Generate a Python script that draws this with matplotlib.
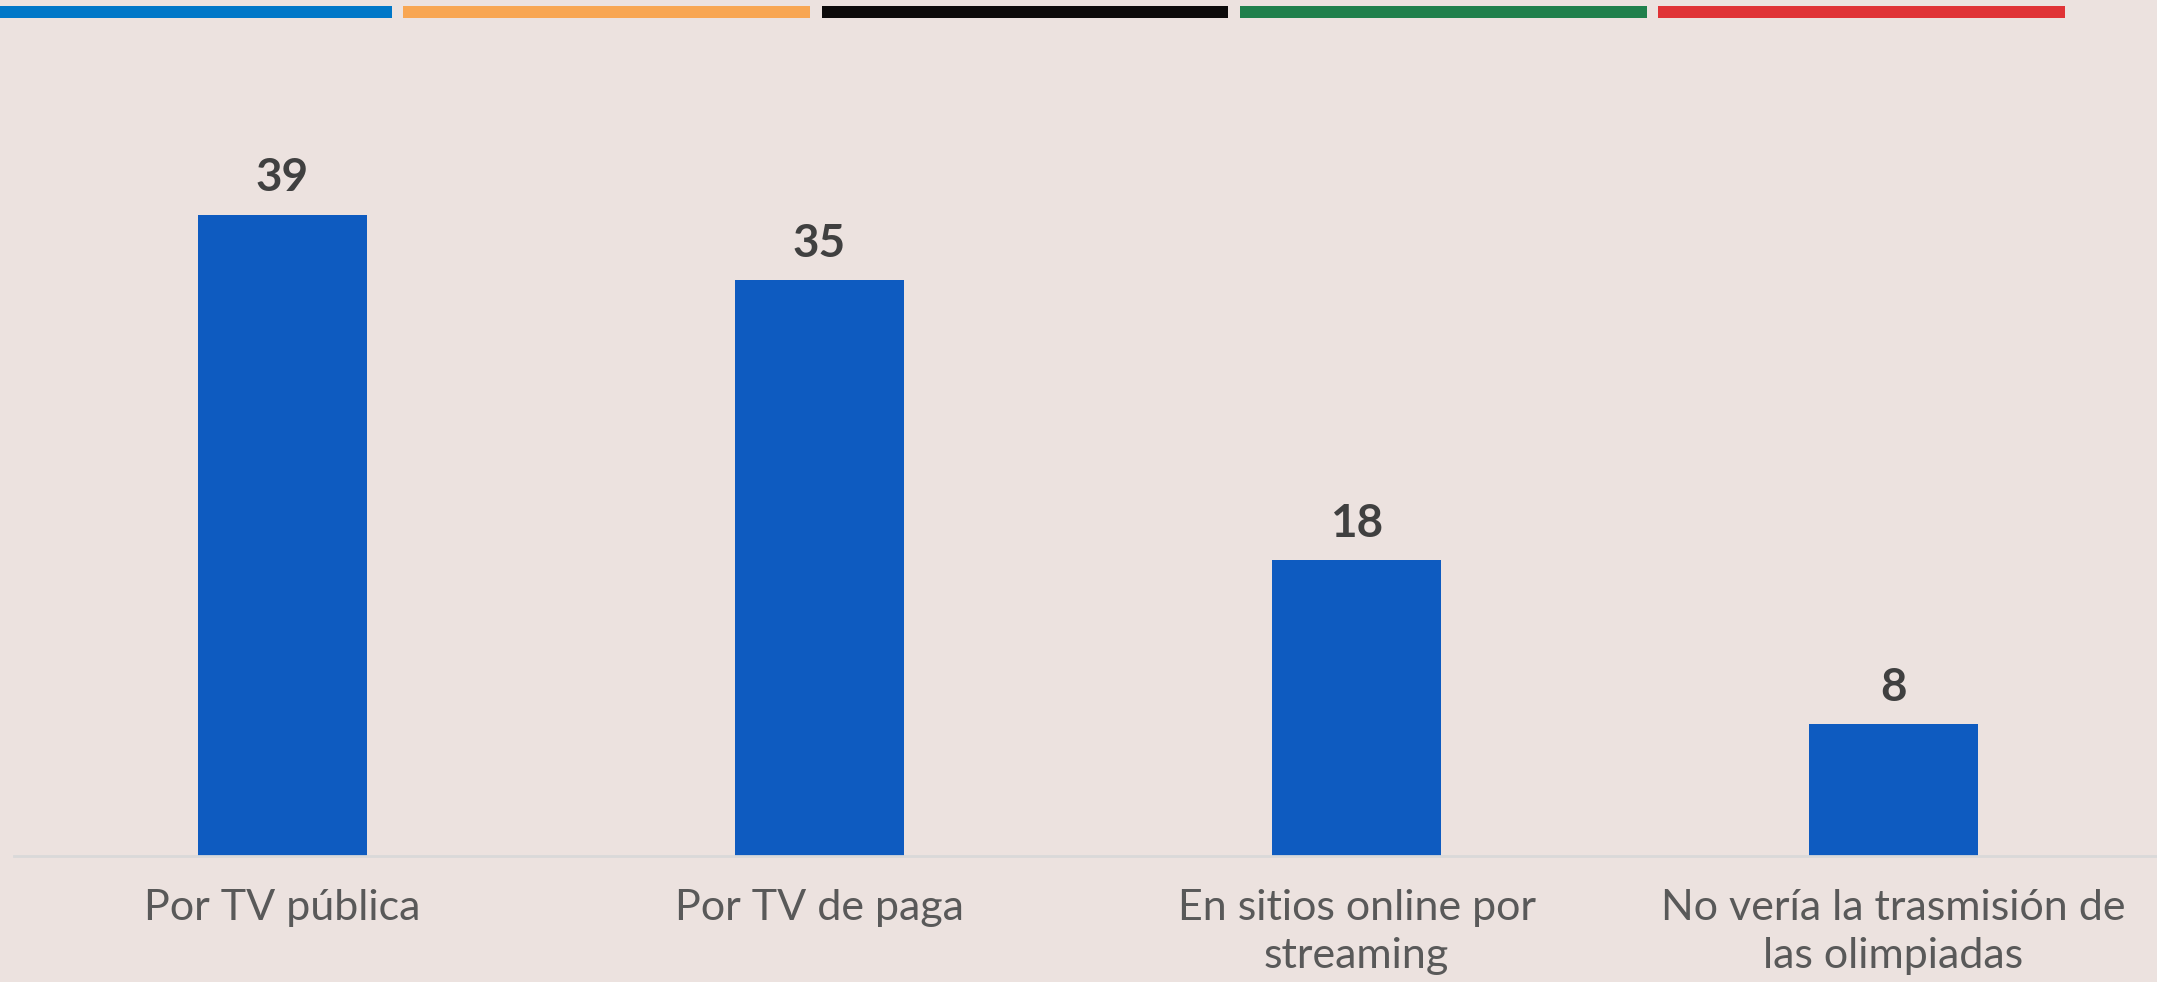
import matplotlib.pyplot as plt

# data
categories = ['Por TV pública', 'Por TV de paga',
              'En sitios online por\nstreaming',
              'No vería la trasmisión de\nlas olimpiadas']
values = [39, 35, 18, 8]

stripe_colors = ['#0077C8', '#F8A652', '#0D0B0B', '#20804C', '#E03336']

bg = '#ECE2DF'
W, H = 2157, 982

fig = plt.figure(figsize=(W / 100, H / 100), dpi=100, facecolor=bg)
plt.rcParams['font.family'] = ['Lato', 'DejaVu Sans']

# coloured stripes at the top
sax = fig.add_axes([-21 / W, 1 - 18 / H, 2092 / W, 12 / H])
sax.bar(range(len(stripe_colors)), [1] * len(stripe_colors), width=0.9725,
        color=stripe_colors)
sax.set_xlim(-0.5, len(stripe_colors) - 0.5)
sax.set_ylim(0, 1)
sax.axis('off')

# main bar chart
ax = fig.add_axes([14 / W, (H - 856) / H, 2148 / W, 740 / H])
ax.set_facecolor(bg)
x = range(len(categories))
bars = ax.bar(x, values, width=0.313, color='#0E5BC0')
ax.set_xlim(-0.5, len(categories) - 0.5)
ax.set_ylim(0, 45)

for rect, v in zip(bars, values):
    ax.annotate(str(v), (rect.get_x() + rect.get_width() / 2, v),
                xytext=(0, 11), textcoords='offset points',
                ha='center', va='bottom', fontsize=33, fontweight='bold',
                color='#404040')

ax.set_xticks(list(x))
ax.set_xticklabels(categories, fontsize=31, color='#595959', linespacing=1.3)
ax.tick_params(axis='x', length=0, pad=24)
ax.set_yticks([])
for s in ['top', 'right', 'left']:
    ax.spines[s].set_visible(False)
ax.spines['bottom'].set_color('#D9D9D9')
ax.spines['bottom'].set_linewidth(2)

fig.savefig('out.png', dpi=100, facecolor=bg)
